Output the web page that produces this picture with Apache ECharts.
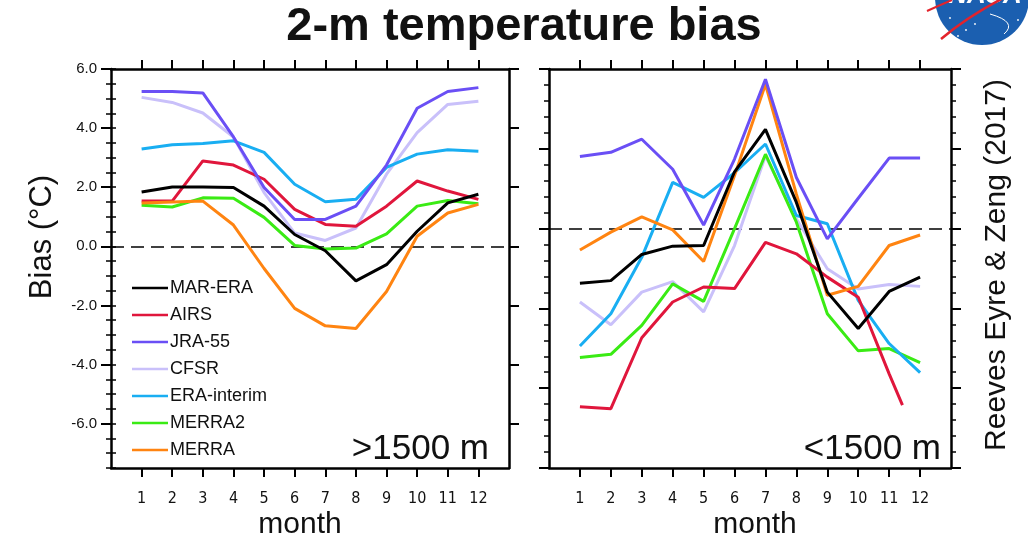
<!DOCTYPE html>
<html><head><meta charset="utf-8">
<script src="https://cdn.jsdelivr.net/npm/echarts@6/dist/echarts.min.js"></script>
<style>html,body{margin:0;padding:0;background:#fff}#c{width:1028px;height:542px}</style>
</head><body><div id="c"></div>
<script>
const months = [1,2,3,4,5,6,7,8,9,10,11,12];
const seriesNames = ['MAR-ERA','AIRS','JRA-55','CFSR','ERA-interim','MERRA2','MERRA'];
const seriesColors = ['#000000','#e0163c','#6a4ff5','#c9c0fa','#19aef2','#3aeb14','#ff8411'];
const leftTicks = [-6,-4,-2,0,2,4,6];
const monthTicks = [1,2,3,4,5,6,7,8,9,10,11,12];

// >1500 m
const hiMarEra = [1.84,2.01,2.01,1.99,1.36,0.40,-0.15,-1.17,-0.62,0.51,1.47,1.76];
const hiAirs   = [1.53,1.53,2.89,2.75,2.27,1.25,0.74,0.68,1.36,2.21,1.87,1.59];
const hiJra55  = [5.24,5.24,5.19,3.7,1.99,0.91,0.91,1.36,2.75,4.67,5.24,5.37];
const hiCfsr   = [5.04,4.87,4.51,3.7,1.82,0.45,0.2,0.62,2.44,3.85,4.8,4.91];
const hiEraInt = [3.29,3.44,3.48,3.57,3.18,2.1,1.51,1.59,2.67,3.12,3.27,3.22];
const hiMerra2 = [1.39,1.33,1.64,1.63,0.98,0.03,-0.09,-0.06,0.42,1.36,1.55,1.44];
const hiMerra  = [1.47,1.5,1.53,0.72,-0.75,-2.1,-2.69,-2.78,-1.53,0.34,1.13,1.42];

// <1500 m
const loMarEra = [-1.71,-1.63,-0.81,-0.55,-0.53,1.78,3.11,0.82,-1.99,-3.13,-1.97,-1.52];
const loAirs   = [-5.58,-5.64,-3.42,-2.3,-1.83,-1.88,-0.43,-0.79,-1.52,-2.15,-4.55,-5.53];
const loAirsMonths = [1,2,3,4,5,6,7,8,9,10,11,11.43];
const loJra55  = [2.26,2.39,2.80,1.86,0.11,2.18,4.68,1.6,-0.32,0.95,2.21,2.21];
const loCfsr   = [-2.30,-3.01,-1.99,-1.66,-2.61,-0.53,2.28,0.3,-1.26,-1.89,-1.75,-1.81];
const loEraInt = [-3.68,-2.67,-0.9,1.45,0.98,1.75,2.65,0.41,0.15,-2.25,-3.6,-4.51];
const loMerra2 = [-4.04,-3.94,-3.03,-1.73,-2.28,0.0,2.33,0.2,-2.67,-3.83,-3.76,-4.2];
const loMerra  = [-0.67,-0.11,0.37,-0.04,-1.03,1.66,4.52,1.08,-2.09,-1.81,-0.53,-0.2];

const hiData = [hiMarEra,hiAirs,hiJra55,hiCfsr,hiEraInt,hiMerra2,hiMerra];
const loData = [loMarEra,loAirs,loJra55,loCfsr,loEraInt,loMerra2,loMerra];
const zOrder = [9,6,8,3,5,4,7];

function pairs(xs, ys){ return ys.map((v,i)=>[xs[i], v]); }

const series = [];
function addPanel(data, gi, xIdx, yIdx){
  data.forEach((arr, k) => {
    const xs = (gi === 1 && k === 1) ? loAirsMonths : months;
    const s = {
      name: seriesNames[k], type: 'line', xAxisIndex: xIdx, yAxisIndex: yIdx,
      data: pairs(xs, arr), symbol: 'none', z: zOrder[k],
      lineStyle: {color: seriesColors[k], width: 3}, itemStyle: {color: seriesColors[k]},
      clip: true
    };
    if (k === 0) {
      s.markLine = {
        silent: true, symbol: ['none','none'], label: {show:false}, z: 1,
        lineStyle: {color: '#000', width: 1.5, type: [13,7]},
        data: [{yAxis: 0}]
      };
    }
    series.push(s);
  });
}

const font = "'Liberation Sans', Arial, Helvetica, sans-serif";
const axisLine = {show: true, onZero: false, lineStyle: {color: '#000', width: 2.5}};

function xAx(gi, pos, labels){
  return {
    type: 'value', gridIndex: gi, position: pos, min: 0, max: 13,
    axisLine: axisLine,
    axisTick: {show: true, customValues: monthTicks, length: 9, lineStyle: {color:'#000', width: 2}},
    axisLabel: labels ? {show: true, customValues: monthTicks, margin: 23, fontSize: 16, color: '#111',
      fontFamily: "'Liberation Sans Narrow','DejaVu Sans Condensed',sans-serif"} : {show: false},
    splitLine: {show: false}
  };
}

const yAxes = [
  {type:'value', gridIndex:0, position:'left', min:-7.5, max:6, axisLine: axisLine,
   axisTick:{show:true, customValues: leftTicks, length:10, lineStyle:{color:'#000', width:2}},
   axisLabel:{show:true, customValues: leftTicks, formatter: v => Number(v).toFixed(1), margin:14, fontSize:15, color:'#111', fontFamily: font},
   splitLine:{show:false}},
  {type:'value', gridIndex:0, position:'left', min:-7.5, max:6, interval:0.5, axisLine:{show:false},
   axisTick:{show:true, length:5, lineStyle:{color:'#000', width:1.5}}, axisLabel:{show:false}, splitLine:{show:false}},
  {type:'value', gridIndex:0, position:'right', min:-7.5, max:6, axisLine: axisLine,
   axisTick:{show:true, customValues: leftTicks, length:10, lineStyle:{color:'#000', width:2}},
   axisLabel:{show:false}, splitLine:{show:false}},
  {type:'value', gridIndex:0, position:'right', min:-7.5, max:6, interval:0.5, axisLine:{show:false},
   axisTick:{show:true, length:5, lineStyle:{color:'#000', width:1.5}}, axisLabel:{show:false}, splitLine:{show:false}},
  {type:'value', gridIndex:1, position:'left', min:-7.5, max:5, interval:2.5, axisLine: axisLine,
   axisTick:{show:true, length:10, lineStyle:{color:'#000', width:2}},
   minorTick:{show:true, splitNumber:5, length:5, lineStyle:{color:'#000', width:1.5}},
   axisLabel:{show:false}, splitLine:{show:false}, minorSplitLine:{show:false}},
  {type:'value', gridIndex:1, position:'right', min:-7.5, max:5, interval:2.5, axisLine: axisLine,
   axisTick:{show:true, length:10, lineStyle:{color:'#000', width:2}},
   minorTick:{show:true, splitNumber:5, length:5, lineStyle:{color:'#000', width:1.5}},
   axisLabel:{show:false}, splitLine:{show:false}, minorSplitLine:{show:false}}
];

addPanel(hiData, 0, 0, 0);
addPanel(loData, 1, 2, 4);

const option = {
  animation: false,
  backgroundColor: '#fff',
  grid: [
    {left: 111, top: 69, width: 398, height: 399},
    {left: 549, top: 69, width: 402, height: 399}
  ],
  xAxis: [xAx(0,'bottom',true), xAx(0,'top',false), xAx(1,'bottom',true), xAx(1,'top',false)],
  yAxis: yAxes,
  legend: {
    data: seriesNames, orient: 'vertical', left: 127, top: 274,
    icon: 'rect', itemWidth: 36, itemHeight: 2.5, itemGap: 9,
    textStyle: {fontSize: 18, color: '#111', fontFamily: font, padding: [0,0,0,-3]},
    selectedMode: false
  },
  series: series,
  graphic: [
    {type:'text', x: 524, y: 27, style:{text:'2-m temperature bias', fontSize: 47, fontWeight:'bold', fill:'#111', fontFamily: font, align:'center', verticalAlign:'middle'}, z: 10},
    {type:'text', x: 42, y: 237, rotation: Math.PI/2, style:{text:'Bias (°C)', fontSize: 31, fill:'#111', fontFamily: font, align:'center', verticalAlign:'middle'}},
    {type:'text', x: 997, y: 265, rotation: Math.PI/2, style:{text:'Reeves Eyre & Zeng (2017)', fontSize: 30, fill:'#111', fontFamily: font, align:'center', verticalAlign:'middle'}},
    {type:'text', x: 300, y: 525, style:{text:'month', fontSize: 30, fill:'#111', fontFamily: font, align:'center', verticalAlign:'middle'}},
    {type:'text', x: 755, y: 525, style:{text:'month', fontSize: 30, fill:'#111', fontFamily: font, align:'center', verticalAlign:'middle'}},
    {type:'text', x: 489, y: 449, style:{text:'>1500 m', fontSize: 35, fill:'#111', fontFamily: font, align:'right', verticalAlign:'middle'}, z: 20},
    {type:'text', x: 941, y: 449, style:{text:'<1500 m', fontSize: 35, fill:'#111', fontFamily: font, align:'right', verticalAlign:'middle'}, z: 20},
    {type:'circle', shape:{cx: 982, cy: -2, r: 47}, style:{fill:'#1b5fb0'}, z: 5},
    {type:'text', x: 985, y: -4, style:{text:'NASA', fontSize: 26, fontWeight:'bold', fontStyle:'italic', fill:'#fff', fontFamily: font, align:'center', verticalAlign:'middle'}, z: 6},
    {type:'bezierCurve', shape:{x1: 941, y1: 39, cpx1: 975, cpy1: 10, x2: 1028, y2: -14}, style:{stroke:'#e3232c', lineWidth: 2.5, fill: null}, z: 7},
    {type:'bezierCurve', shape:{x1: 927, y1: 11, cpx1: 940, cpy1: 5, x2: 952, y2: 0}, style:{stroke:'#e3232c', lineWidth: 2, fill: null}, z: 7},
    {type:'bezierCurve', shape:{x1: 990, y1: 14, cpx1: 1018, cpy1: 22, x2: 1004, y2: 34}, style:{stroke:'#ffffff', lineWidth: 1, fill: null}, z: 7},
    {type:'circle', shape:{cx: 950, cy: 18, r: 0.9}, style:{fill:'#fff'}, z: 7},
    {type:'circle', shape:{cx: 966, cy: 30, r: 0.9}, style:{fill:'#fff'}, z: 7},
    {type:'circle', shape:{cx: 975, cy: 24, r: 0.9}, style:{fill:'#fff'}, z: 7},
    {type:'circle', shape:{cx: 1018, cy: 20, r: 0.9}, style:{fill:'#fff'}, z: 7},
    {type:'circle', shape:{cx: 958, cy: 36, r: 0.9}, style:{fill:'#fff'}, z: 7}
  ]
};

const chart = echarts.init(document.getElementById('c'), null, {renderer: 'canvas'});
chart.setOption(option);
</script>
</body></html>
